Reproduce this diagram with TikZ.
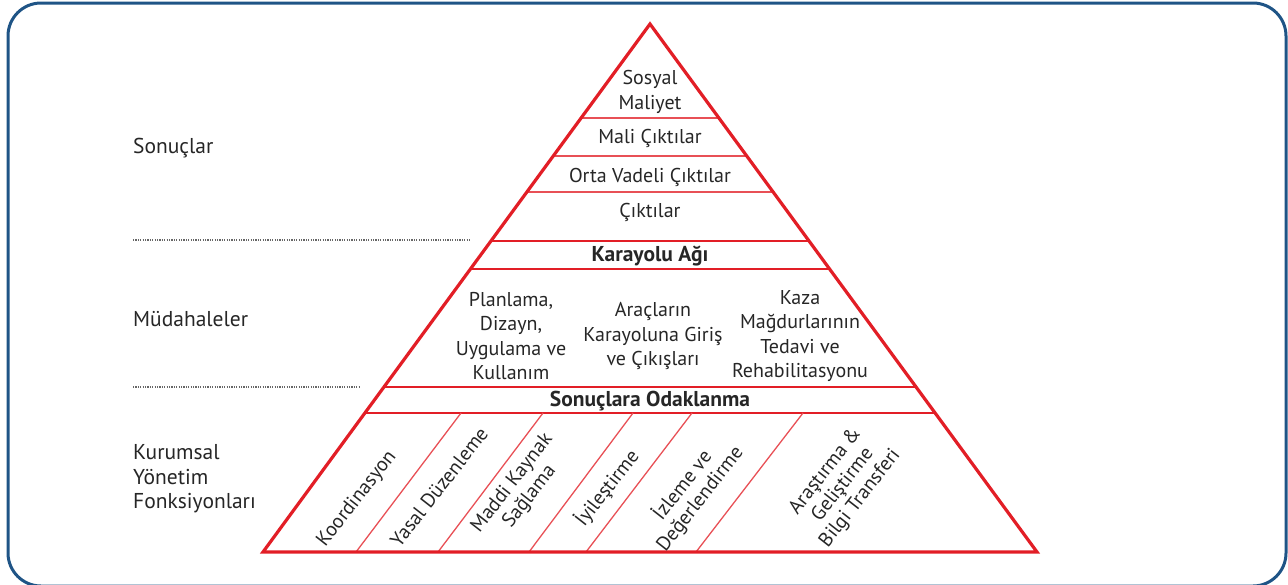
\documentclass[tikz,border=0pt]{standalone}
\usepackage{fontspec}
\setmainfont{PT Sans}
\definecolor{pyr}{RGB}{226,30,38}
\definecolor{pyrl}{RGB}{232,80,86}
\definecolor{framec}{RGB}{31,84,134}
\definecolor{txt}{RGB}{38,38,38}
\begin{document}
\begin{tikzpicture}[x=1pt,y=-1pt,
  outer/.style={draw=pyr,line width=3.2pt,line join=miter},
  band/.style={draw=pyr,line width=2.2pt},
  thinline/.style={draw=pyrl,line width=1.3pt},
  lbl/.style={text=txt,font=\fontsize{20}{24.5}\selectfont,align=center,inner sep=0pt},
  blbl/.style={lbl,font=\fontsize{21.5}{24.5}\selectfont\bfseries},
  rlbl/.style={lbl,font=\fontsize{20}{22}\selectfont,rotate=52},
  side/.style={text=txt,font=\fontsize{21.5}{24.5}\selectfont,align=left,inner sep=0pt,anchor=west},
  dotline/.style={draw=black!60,line width=1.6pt,dash pattern=on 1.2pt off 1.2pt}]
\useasboundingbox (0,0) rectangle (1288,584);
\draw[draw=framec,line width=3pt,rounded corners=33pt] (8,3) rectangle (1286,586);

% pyramid
\coordinate (apex) at (650,24);
\coordinate (bl) at (263,552);
\coordinate (br) at (1037,552);
% thin lines in top part
\draw[thinline] (581.1,118) -- (718.9,118);
\draw[thinline] (553.3,156) -- (746.7,156);
\draw[thinline] (526.9,192) -- (773.1,192);
% bands
\draw[band] (491.0,241) -- (809.0,241);
\draw[band] (470.4,269) -- (829.6,269);
\draw[band] (383.9,387) -- (916.1,387);
\draw[band] (364.9,413) -- (935.1,413);
% diagonals
\draw[thinline] (461,413) -- (356,552);
\draw[thinline] (543,413) -- (438,552);
\draw[thinline] (633,413) -- (529,552);
\draw[thinline] (692,413) -- (586,552);
\draw[thinline] (803,413) -- (696,552);
\draw[outer] (apex) -- (br) -- (bl) -- cycle;

% top texts
\node[lbl] (sm) at (650,92) {Sosyal\\Maliyet};
\node[lbl] (mc) at (650,138) {Mali Çıktılar};
\node[lbl] (ov) at (650,177) {Orta Vadeli Çıktılar};
\node[lbl] (ck) at (650,212) {Çıktılar};
\node[blbl] (ka) at (650,256) {Karayolu Ağı};
\node[lbl] (pl) at (511,336) {Planlama,\\Dizayn,\\Uygulama ve\\Kullanım};
\node[lbl] (ar) at (653,336) {Araçların\\Karayoluna Giriş\\ve Çıkışları};
\node[lbl] (kz) at (800,336) {Kaza\\Mağdurlarının\\Tedavi ve\\Rehabilitasyonu};
\node[blbl] (so) at (650,401) {Sonuçlara Odaklanma};

% rotated texts
\node[rlbl] (ko) at (357,499) {Koordinasyon};
\node[rlbl] (ya) at (439,487) {Yasal Düzenleme};
\node[rlbl] (md) at (521,490) {Maddi Kaynak\\Sağlama};
\node[rlbl] (iy) at (607,488) {İyileştirme};
\node[rlbl] (iz) at (691,492) {İzleme ve\\Değerlendirme};
\node[rlbl] (ag) at (843,485) {Araştırma \&\\Geliştirme\\Bilgi Transferi};

% side labels
\node[side] (s1) at (133,148) {Sonuçlar};
\node[side] (s2) at (133,319) {Müdahaleler};
\node[side] (s3) at (133,479) {Kurumsal\\Yönetim\\Fonksiyonları};
\coordinate (d1a) at (133,240);
\coordinate (d1b) at (470,240);
\coordinate (d2a) at (133,387);
\coordinate (d2b) at (360,387);
\draw[dotline] (d1a) -- (d1b);
\draw[dotline] (d2a) -- (d2b);
\end{tikzpicture}
\end{document}
